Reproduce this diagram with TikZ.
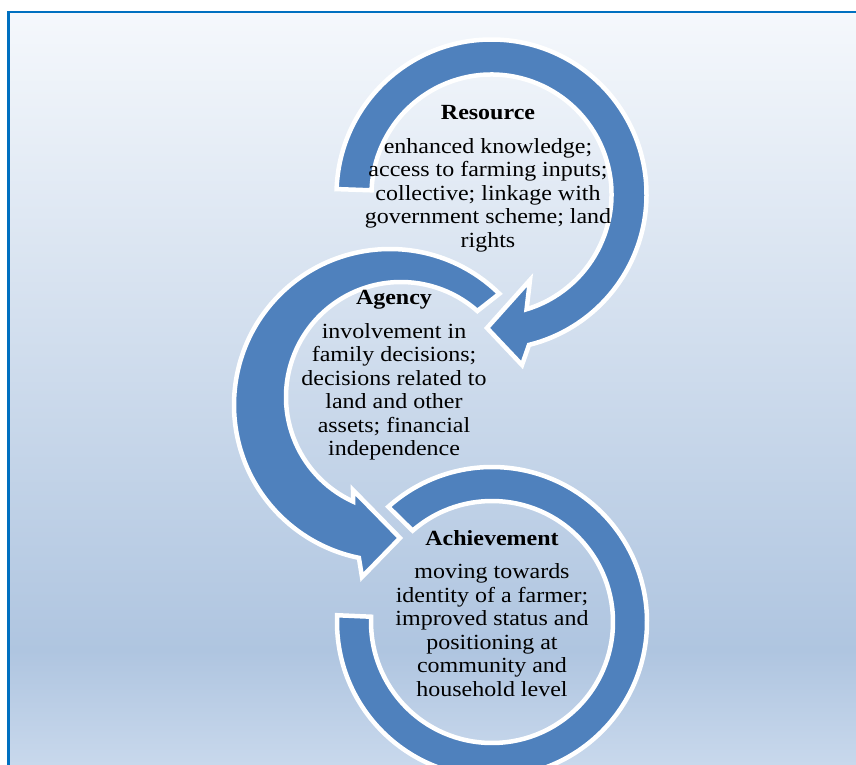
\documentclass[tikz,border=0pt]{standalone}
\usepackage{fontspec}
\setmainfont[FakeStretch=1.11]{Liberation Serif}
\usetikzlibrary{calc}
\definecolor{ringblue}{HTML}{4F81BD}
\definecolor{frameblue}{HTML}{0070C0}
\definecolor{bgtop}{HTML}{F5F8FC}
\definecolor{bgmid}{HTML}{AFC5E0}
\definecolor{bgbot}{HTML}{C8D8EC}
\begin{document}
\begin{tikzpicture}[x=1pt,y=1pt,
  ring/.style={fill=ringblue, draw=white, line width=4.5pt, line join=miter},
  label/.style={anchor=base, inner sep=0pt, font=\fontsize{21.6}{23.5}\selectfont}]
\useasboundingbox (0,0) rectangle (856,764);
\clip (0,0) rectangle (856,764);
% page and gradient panel
\fill[white] (0,0) rectangle (856,764);
\shade[top color=bgtop, bottom color=bgmid] (8.5,113.5) rectangle (856,752);
\shade[top color=bgmid, bottom color=bgbot] (8.5,0) rectangle (856,114);
\draw[frameblue, line width=2.8pt] (8.5,-5) -- (8.5,752) -- (870,752);

% ring centres
\coordinate (c1) at (491.5,569.5);
\coordinate (o2) at (390,359);
\coordinate (i2) at (401,367);
\coordinate (c3) at (492,142);

% third ring: plain block arc
\draw[ring] ($(c3)+(177.5:155)$) arc[start angle=177.5, end angle=492, radius=155]
  -- ($(c3)+(491:121)$) arc[start angle=491, end angle=177.5, radius=121] -- cycle;

% second ring: arrow running anticlockwise into the third
\coordinate (t2o) at (362,187);
\coordinate (t2) at (400,226);
\coordinate (t2i) at (353,274);
\draw[ring] ($(o2)+(45.5:156)$) arc[start angle=45.5, end angle=258.5, radius=156]
  -- (t2o) -- (t2) -- (t2i)
  -- ($(i2)+(245.4:115)$) arc[start angle=245.4, end angle=48.4, radius=115] -- cycle;

% first ring: arrow running clockwise into the second
\coordinate (t1o) at (522,399);
\coordinate (t1) at (487,436);
\coordinate (t1i) at (530,484);
\draw[ring] ($(c1)+(178:155)$) arc[start angle=178, end angle=-76, radius=155]
  -- (t1o) -- (t1) -- (t1i)
  -- ($(c1)+(-73:120)$) arc[start angle=-73, end angle=178, radius=120] -- cycle;

% texts
\node[label] (resource) at (488,644) {\begin{tabular}[t]{@{}c@{}}
  \textbf{Resource}\\[10pt]
  enhanced knowledge;\\
  access to farming inputs;\\
  collective; linkage with\\
  government scheme; land\\
  rights\end{tabular}};
\node[label] (agency) at (394,459) {\begin{tabular}[t]{@{}c@{}}
  \textbf{Agency}\\[10pt]
  involvement in\\
  family decisions;\\
  decisions related to\\
  land and other\\
  assets; financial\\
  independence\end{tabular}};
\node[label] (achievement) at (492,219) {\begin{tabular}[t]{@{}c@{}}
  \textbf{Achievement}\\[10pt]
  moving towards\\
  identity of a farmer;\\
  improved status and\\
  positioning at\\
  community and\\
  household level\end{tabular}};
\end{tikzpicture}
\end{document}
